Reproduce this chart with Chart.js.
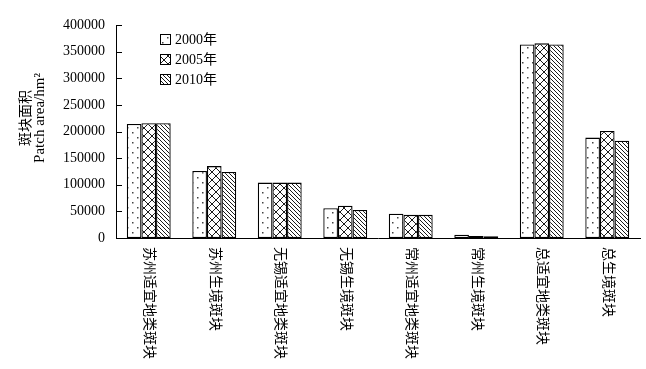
<!DOCTYPE html>
<html>
<head>
<meta charset="utf-8">
<script src="https://cdn.jsdelivr.net/npm/chart.js@4.4.1/dist/chart.umd.min.js"></script>
<style>
  html, body { margin: 0; padding: 0; background: #fff; }
  #wrap { width: 646px; height: 369px; }
</style>
</head>
<body>
<div id="wrap"><canvas id="c" width="646" height="369"></canvas></div>
<script>
// categories and values
const categories = ['苏州适宜地类斑块', '苏州生境斑块', '无锡适宜地类斑块', '无锡生境斑块',
                    '常州适宜地类斑块', '常州生境斑块', '总适宜地类斑块', '总生境斑块'];
const years = ['2000年', '2005年', '2010年'];
const area2000 = [214000, 126000, 104000, 56000, 45500, 6000, 363500, 188500];
const area2005 = [215500, 135000, 104000, 60500, 43500, 3700, 365500, 201000];
const area2010 = [215500, 124000, 104000, 52500, 43500, 3500, 363500, 182500];
const yTicks = [0, 50000, 100000, 150000, 200000, 250000, 300000, 350000, 400000];
const yTitle = ['斑块面积', 'Patch area/hm²'];

const SERIF = "'Liberation Serif', 'Times New Roman', 'Noto Sans CJK SC', serif";

// hatch fills, built on small tiles
function makePattern(w, h, draw) {
  const t = document.createElement('canvas');
  t.width = w; t.height = h;
  const g = t.getContext('2d');
  g.fillStyle = '#fff';
  g.fillRect(0, 0, w, h);
  draw(g);
  return g.createPattern(t, 'repeat');
}
const ctx = document.getElementById('c').getContext('2d');

const dotFill = makePattern(10, 10, g => {
  g.fillStyle = '#444';
  g.fillRect(2, 2, 1.5, 1.5);
  g.fillRect(7, 7, 1.5, 1.5);
});
const crossFill = makePattern(8, 8, g => {
  g.strokeStyle = '#000';
  g.lineWidth = 0.9;
  g.beginPath();
  g.moveTo(-1, -1); g.lineTo(9, 9);
  g.moveTo(9, -1); g.lineTo(-1, 9);
  g.stroke();
});
const slashFill = makePattern(4, 4, g => {
  g.strokeStyle = '#000';
  g.lineWidth = 0.9;
  g.beginPath();
  g.moveTo(-1, -1); g.lineTo(5, 5);
  g.moveTo(3, -1); g.lineTo(5, 1);
  g.moveTo(-1, 3); g.lineTo(1, 5);
  g.stroke();
});
const fills = [dotFill, crossFill, slashFill];

// inward y ticks, axis title, custom legend, x labels reading top-down
const decorations = {
  id: 'decorations',
  afterDraw(chart) {
    const c = chart.ctx;
    const y = chart.scales.y;
    const x = chart.scales.x;
    const area = chart.chartArea;
    c.save();
    c.strokeStyle = '#000';
    c.lineWidth = 1;
    yTicks.forEach(v => {
      const py = Math.round(y.getPixelForValue(v)) + 0.5;
      c.beginPath();
      c.moveTo(area.left, py);
      c.lineTo(area.left + 6, py);
      c.stroke();
    });

    // y title, two lines
    c.fillStyle = '#000';
    c.textAlign = 'center';
    c.textBaseline = 'middle';
    c.save();
    c.translate(25, 118);
    c.rotate(-Math.PI / 2);
    c.font = "14px 'Noto Sans CJK SC', sans-serif";
    c.fillText(yTitle[0], 0, 0);
    c.restore();
    c.save();
    c.translate(40, 118);
    c.rotate(-Math.PI / 2);
    c.font = '15px ' + SERIF;
    c.fillText(yTitle[1], 0, 0);
    c.restore();

    // legend
    c.font = '14px ' + SERIF;
    c.textBaseline = 'middle';
    c.textAlign = 'left';
    chart.data.datasets.forEach((ds, i) => {
      const cy = 39 + i * 20;
      c.fillStyle = fills[i];
      c.fillRect(160, cy - 5, 10, 10);
      c.strokeStyle = '#000';
      c.lineWidth = 1;
      c.strokeRect(160.5, cy - 4.5, 10, 10);
      c.fillStyle = '#000';
      c.fillText(ds.label, 175, cy + 1);
    });

    // category labels
    c.font = '14px ' + SERIF;
    c.fillStyle = '#000';
    c.textAlign = 'left';
    c.textBaseline = 'middle';
    categories.forEach((lab, i) => {
      const px = x.getPixelForValue(i);
      c.save();
      c.translate(px, area.bottom + 9);
      c.rotate(Math.PI / 2);
      c.fillText(lab, 0, 0);
      c.restore();
    });
    c.restore();
  }
};

const series = [area2000, area2005, area2010];

new Chart(ctx, {
  type: 'bar',
  data: {
    labels: categories,
    datasets: years.map((yr, i) => ({
      label: yr,
      data: series[i],
      backgroundColor: fills[i],
      borderColor: '#000',
      borderWidth: 1.3,
      borderSkipped: false,
      categoryPercentage: 0.67,
      barPercentage: 1.0
    }))
  },
  options: {
    responsive: false,
    animation: false,
    devicePixelRatio: 1,
    layout: { padding: { top: 25, right: 6, left: 0, bottom: 0 } },
    plugins: {
      legend: { display: false },
      tooltip: { enabled: false }
    },
    scales: {
      x: {
        grid: { display: false, drawTicks: false },
        border: { display: true, color: '#000', width: 1 },
        ticks: { display: false },
        afterFit: s => { s.height = 131; }
      },
      y: {
        min: 0,
        max: 400000,
        afterBuildTicks: s => { s.ticks = yTicks.map(v => ({ value: v })); },
        grid: { display: false, drawTicks: false },
        border: { display: true, color: '#000', width: 1 },
        ticks: {
          color: '#000',
          padding: 11,
          font: { family: SERIF, size: 14 },
          callback: v => String(v)
        },
        afterFit: s => { s.width = 116; }
      }
    }
  },
  plugins: [decorations]
});
</script>
</body>
</html>
